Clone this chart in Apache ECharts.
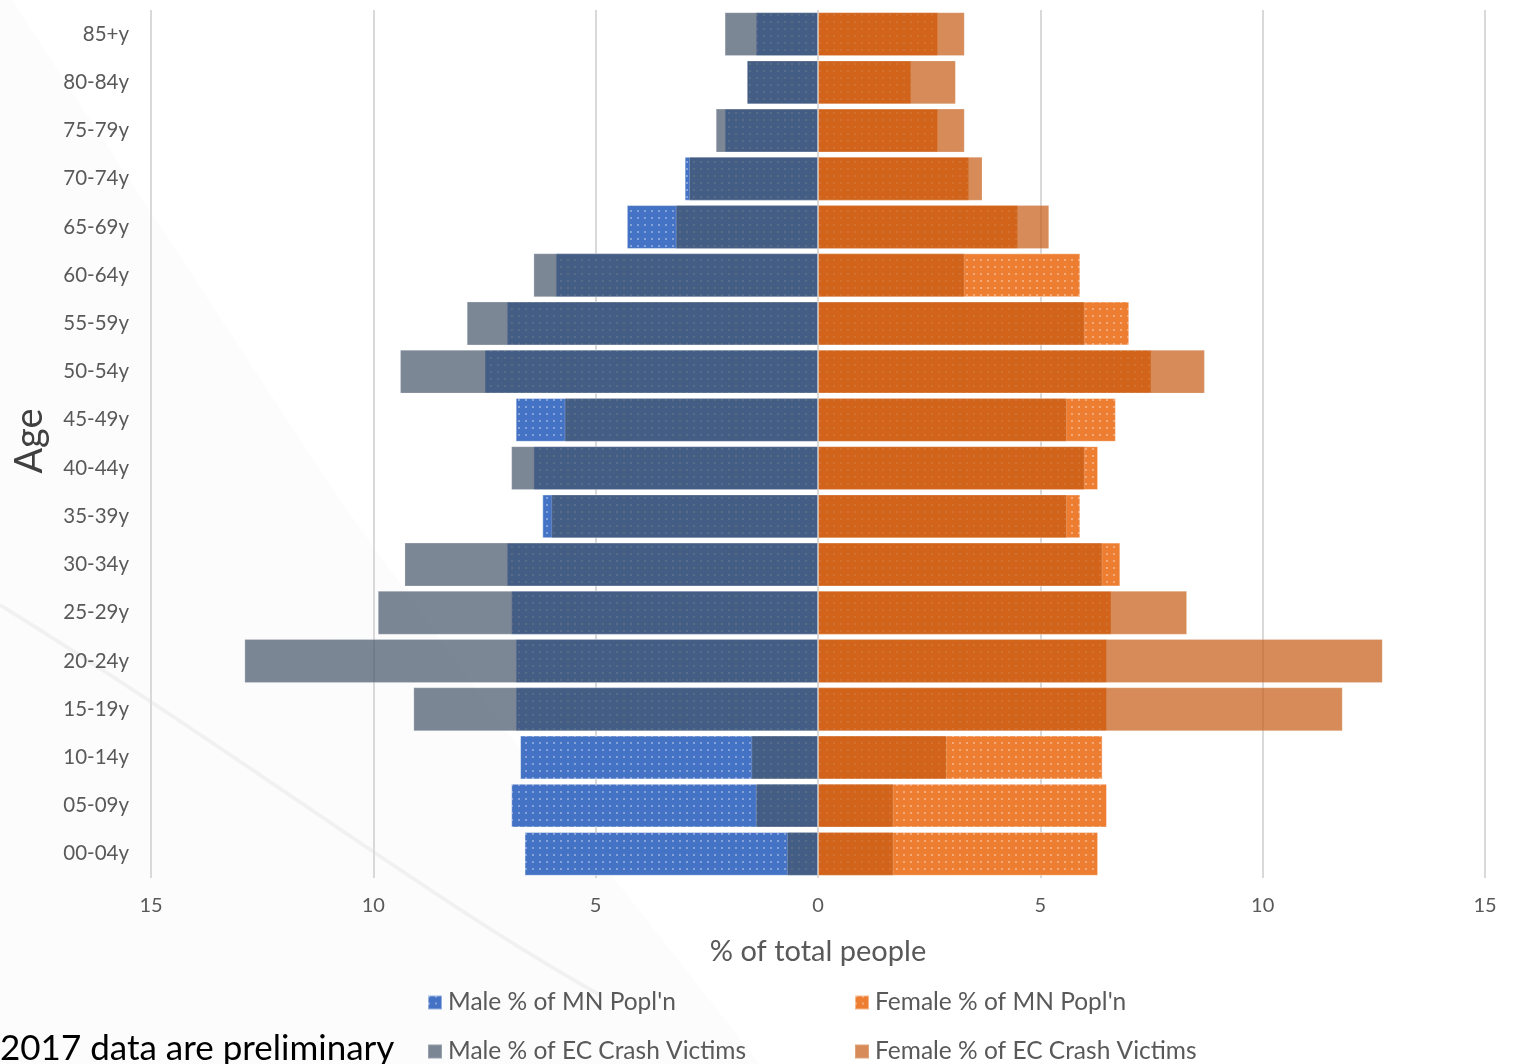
<!DOCTYPE html>
<html>
<head>
<meta charset="utf-8">
<script src="https://cdn.jsdelivr.net/npm/echarts@6/dist/echarts.min.js"></script>
<style>
html,body{margin:0;padding:0;background:#fff;}
#chart{width:1515px;height:1064px;}
</style>
</head>
<body>
<div id="chart"></div>
<script>
const categories = ['00-04y','05-09y','10-14y','15-19y','20-24y','25-29y','30-34y','35-39y','40-44y','45-49y','50-54y','55-59y','60-64y','65-69y','70-74y','75-79y','80-84y','85+y'];
const maleMN   = [6.6, 6.9, 6.7, 6.8, 6.8, 6.9, 7.0, 6.2, 6.4, 6.8, 7.5, 7.0, 5.9, 4.3, 3.0, 2.1, 1.6, 1.4];
const maleEC   = [0.7, 1.4, 1.5, 9.1, 12.9, 9.9, 9.3, 6.0, 6.9, 5.7, 9.4, 7.9, 6.4, 3.2, 2.9, 2.3, 1.6, 2.1];
const femaleMN = [6.3, 6.5, 6.4, 6.5, 6.5, 6.6, 6.8, 5.9, 6.3, 6.7, 7.5, 7.0, 5.9, 4.5, 3.4, 2.7, 2.1, 2.7];
const femaleEC = [1.7, 1.7, 2.9, 11.8, 12.7, 8.3, 6.4, 5.6, 6.0, 5.6, 8.7, 6.0, 3.3, 5.2, 3.7, 3.3, 3.1, 3.3];
const xTicks = [-15, -10, -5, 0, 5, 10, 15];

const FONT = 'Lato';
const chart = echarts.init(document.getElementById('chart'));
const dots = {symbol:'rect', symbolSize:1, color:'rgba(255,255,255,0.35)', dashArrayX:[2,5], dashArrayY:[2,5]};
const common = {type:'bar', barGap:'-100%', barCategoryGap:'9%'};
const names = ["Male % of MN Popl'n", "Male % of EC Crash Victims", "Female % of MN Popl'n", "Female % of EC Crash Victims"];
const legendPos = [[427, 990], [427, 1039], [854, 990], [854, 1039]];

chart.setOption({
  animation:false,
  backgroundColor:'#ffffff',
  grid:{left:151, right:30, top:10, bottom:186},
  xAxis:{
    type:'value', min:xTicks[0], max:xTicks[xTicks.length-1], interval:5,
    axisLine:{show:false}, axisTick:{show:false},
    splitLine:{show:true, lineStyle:{color:'#D9D9D9', width:2}},
    axisLabel:{color:'#595959', fontSize:20, fontFamily:FONT, margin:18, formatter:v=>String(Math.abs(v))},
    name:'% of total people', nameLocation:'middle', nameGap:59,
    nameTextStyle:{color:'#595959', fontSize:29, fontFamily:FONT}
  },
  yAxis:{
    type:'category', data:categories,
    axisLine:{show:false, onZero:false}, axisTick:{show:false},
    axisLabel:{color:'#595959', fontSize:20.5, fontFamily:FONT, margin:22}
  },
  legend: names.map((n,i)=>({
    orient:'horizontal', left:legendPos[i][0], top:legendPos[i][1], padding:0,
    itemWidth:14, itemHeight:14, icon:'rect',
    textStyle:{color:'#595959', fontSize:24.5, fontFamily:FONT, lineHeight:24, padding:[0,0,0,1]},
    data:[n]
  })),
  graphic:[
    {type:'polygon', z:-10, silent:true, shape:{points:[[0,0],[12,0],[340,500],[600,860],[760,1064],[0,1064]]}, style:{fill:'rgba(0,0,0,0.012)'}},
    {type:'bezierCurve', z:-9, silent:true, shape:{x1:0, y1:605, cpx1:250, cpy1:760, cpx2:430, cpy2:900, x2:600, y2:995}, style:{stroke:'rgba(0,0,0,0.045)', lineWidth:4, fill:null}},
    {type:'text', left:0, top:1031, style:{text:'2017 data are preliminary', fill:'#000', font:'35px '+FONT}},
    {type:'text', x:30, y:441, rotation:Math.PI/2, style:{text:'Age', fill:'#404040', font:'38px '+FONT, textAlign:'center', textVerticalAlign:'middle'}}
  ],
  series:[
    Object.assign({}, common, {name:names[0], data:maleMN.map(v=>-v), z:2,
      itemStyle:{color:'#4472C4', decal:dots, borderColor:'rgba(255,255,255,0.25)', borderWidth:1}}),
    Object.assign({}, common, {name:names[2], data:femaleMN, z:2,
      itemStyle:{color:'#ED7D31', decal:dots, borderColor:'rgba(255,255,255,0.25)', borderWidth:1}}),
    Object.assign({}, common, {name:names[1], data:maleEC.map(v=>-v), z:3,
      itemStyle:{color:'#44546A', opacity:0.7, borderColor:'rgba(255,255,255,0.3)', borderWidth:1}}),
    Object.assign({}, common, {name:names[3], data:femaleEC, z:3,
      itemStyle:{color:'#C55A11', opacity:0.7, borderColor:'rgba(255,255,255,0.3)', borderWidth:1}})
  ]
});
</script>
</body>
</html>
